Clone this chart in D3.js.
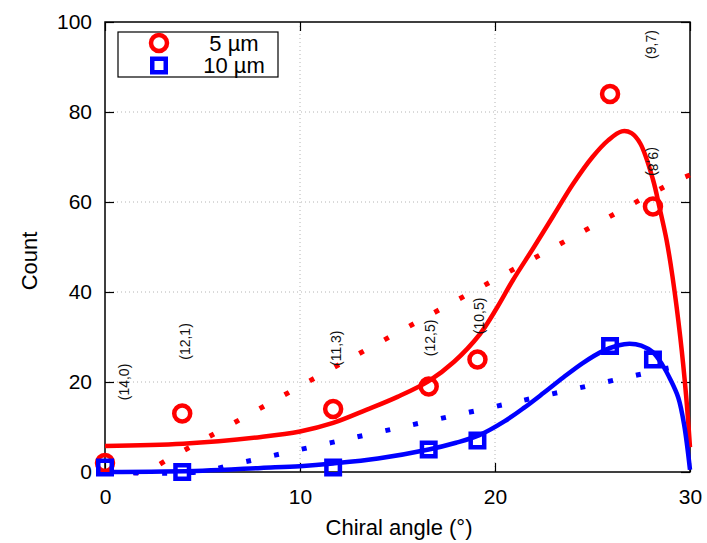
<!DOCTYPE html>
<html>
<head>
<meta charset="utf-8">
<script src="https://cdn.jsdelivr.net/npm/d3@7"></script>
<style>
  body { margin: 0; background: #fff; }
  svg { display: block; font-family: "Liberation Sans", Arial, Helvetica, sans-serif; }
  .grid line { stroke: #b4b4b4; stroke-width: 1; stroke-dasharray: 1,3; }
  .axis path { display: none; }
  .axis line { stroke: #000; stroke-width: 1.2; }
  .axis text { font-size: 21px; fill: #000; }
</style>
</head>
<body>
<svg width="707" height="543"></svg>
<script>
// chiralities and measured counts
const chiralities = ['(14,0)', '(12,1)', '(11,3)', '(12,5)', '(10,5)', '(9,7)', '(9,8)'];
const angles = [0, 3.96, 11.7, 16.6, 19.1, 25.9, 28.1];
const counts5 = [2, 13, 14, 19, 25, 84, 59];
const counts10 = [1, 0, 1, 5, 7, 28, 25];

// where the chirality labels sit (angle, count), and their rotation
const labelAngles = [1.0, 4.1, 11.85, 16.65, 19.2, 28.0, 28.1];
const labelCounts = [20, 29, 27.5, 29.8, 34.7, 95, 69];
const labelRotate = [-90, -90, -90, -90, -90, -90, 90];

// fitted curves (solid)
const fit5 = [[0, 5.8], [4, 6.3], [8, 7.8], [10, 9], [11.7, 10.9], [13.4, 13.8], [15, 16.7],
  [16.6, 20.2], [17.9, 24.5], [19.2, 30.5], [20.1, 36.5], [20.9, 42.5], [22, 50], [23, 57],
  [24, 64], [25, 70], [25.8, 73.7], [26.5, 75.7], [27, 75.3], [27.45, 73], [28.1, 65],
  [28.45, 58.5], [28.8, 51.5], [29.1, 43.5], [29.5, 30], [29.8, 17], [30, 5.5]];
const fit10 = [[0, 0], [5, 0.3], [8, 0.9], [10, 1.3], [11.7, 1.9], [14, 3], [16.6, 5], [18, 6.5],
  [19.2, 8.2], [20.5, 11.3], [21.5, 14.3], [22.5, 17.6], [23.5, 21], [24.5, 24.2], [25.5, 26.8],
  [26.3, 28.1], [26.9, 28.5], [27.5, 28.1], [28.1, 26.6], [28.6, 23.7], [29, 20.5], [29.4, 16.5],
  [29.7, 10.5], [30, 0.5]];

// dotted curves
const trend5 = [[0, 0], [2, 0.1], [3.5, 3.5], [12.4, 24.8], [23.9, 52], [29.1, 64.3], [30, 66]];
const trend10 = [[0, 0], [4.8, 0], [6.7, 1.8], [12.4, 7.3], [21, 15.5], [29.5, 23.7], [30, 24.2]];

const xTicks = [0, 10, 20, 30];
const yTicks = [0, 20, 40, 60, 80, 100];
const legendLabels = ['5 µm', '10 µm'];

const svg = d3.select('svg');
const pL = 105, pR = 690, pT = 22, pB = 472;

const x = d3.scaleLinear().domain([0, 30]).range([pL, pR]);
const y = d3.scaleLinear().domain([0, 100]).range([pB, pT]);

// grid
const grid = svg.append('g').attr('class', 'grid');
grid.selectAll('.gx').data([10, 20]).enter().append('line')
  .attr('x1', d => x(d)).attr('x2', d => x(d)).attr('y1', pT).attr('y2', pB);
grid.selectAll('.gy').data([20, 40, 60, 80]).enter().append('line')
  .attr('x1', pL).attr('x2', pR).attr('y1', d => y(d)).attr('y2', d => y(d));

// axes, ticks pointing inwards
svg.append('g').attr('class', 'axis')
  .attr('transform', `translate(0,${pB})`)
  .call(d3.axisBottom(x).tickValues(xTicks).tickSize(-9).tickPadding(17));
svg.append('g').attr('class', 'axis')
  .attr('transform', `translate(${pL},0)`)
  .call(d3.axisLeft(y).tickValues(yTicks).tickSize(-9).tickPadding(13));
svg.append('g').attr('class', 'axis')
  .attr('transform', `translate(0,${pT})`)
  .call(d3.axisTop(x).tickValues(xTicks).tickSize(-9).tickFormat(''));
svg.append('g').attr('class', 'axis')
  .attr('transform', `translate(${pR},0)`)
  .call(d3.axisRight(y).tickValues(yTicks).tickSize(-9).tickFormat(''));

svg.append('rect')
  .attr('x', pL).attr('y', pT)
  .attr('width', pR - pL).attr('height', pB - pT)
  .attr('fill', 'none').attr('stroke', '#000').attr('stroke-width', 1.5);

// axis titles
svg.append('text')
  .attr('x', 399).attr('y', 535)
  .attr('text-anchor', 'middle').attr('font-size', 22)
  .text('Chiral angle (°)');
svg.append('text')
  .attr('transform', `translate(37,261) rotate(-90)`)
  .attr('text-anchor', 'middle').attr('font-size', 22)
  .text('Count');

// curves
const line = d3.line().x(d => x(d[0])).y(d => y(d[1])).curve(d3.curveCatmullRom.alpha(0.5));

svg.append('path').datum(trend5)
  .attr('d', line).attr('fill', 'none').attr('stroke', '#ff0000')
  .attr('stroke-width', 5).attr('stroke-dasharray', '5,23.5');
svg.append('path').datum(trend10)
  .attr('d', line).attr('fill', 'none').attr('stroke', '#0000ff')
  .attr('stroke-width', 5).attr('stroke-dasharray', '5,23.5');
svg.append('path').datum(fit5)
  .attr('d', line).attr('fill', 'none').attr('stroke', '#ff0000').attr('stroke-width', 4.5);
svg.append('path').datum(fit10)
  .attr('d', line).attr('fill', 'none').attr('stroke', '#0000ff').attr('stroke-width', 4.5);

// markers
svg.append('g').selectAll('circle').data(angles).enter().append('circle')
  .attr('cx', d => x(d)).attr('cy', (d, i) => y(counts5[i]))
  .attr('r', 8).attr('fill', 'none').attr('stroke', '#ff0000').attr('stroke-width', 4.5);
svg.append('g').selectAll('rect').data(angles).enter().append('rect')
  .attr('x', d => x(d) - 6.75).attr('y', (d, i) => y(counts10[i]) - 6.75)
  .attr('width', 13.5).attr('height', 13.5)
  .attr('fill', 'none').attr('stroke', '#0000ff').attr('stroke-width', 4.5);

// chirality labels
svg.append('g').selectAll('text').data(chiralities).enter().append('text')
  .attr('transform', (d, i) => `translate(${x(labelAngles[i])},${y(labelCounts[i])}) rotate(${labelRotate[i]})`)
  .attr('text-anchor', 'middle').attr('dy', '0.35em')
  .attr('font-size', 14).attr('fill', '#111')
  .text(d => d);

// legend
const legend = svg.append('g');
legend.append('rect')
  .attr('x', 118).attr('y', 32).attr('width', 160).attr('height', 45)
  .attr('fill', '#fff').attr('stroke', '#000').attr('stroke-width', 1.2);
legend.append('circle')
  .attr('cx', 159).attr('cy', 43).attr('r', 8)
  .attr('fill', 'none').attr('stroke', '#ff0000').attr('stroke-width', 4.5);
legend.append('rect')
  .attr('x', 159 - 6.75).attr('y', 65.5 - 6.75).attr('width', 13.5).attr('height', 13.5)
  .attr('fill', 'none').attr('stroke', '#0000ff').attr('stroke-width', 4.5);
legend.selectAll('text').data(legendLabels).enter().append('text')
  .attr('x', 234).attr('y', (d, i) => 50.5 + i * 22.5)
  .attr('text-anchor', 'middle').attr('font-size', 22)
  .text(d => d);
</script>
</body>
</html>
